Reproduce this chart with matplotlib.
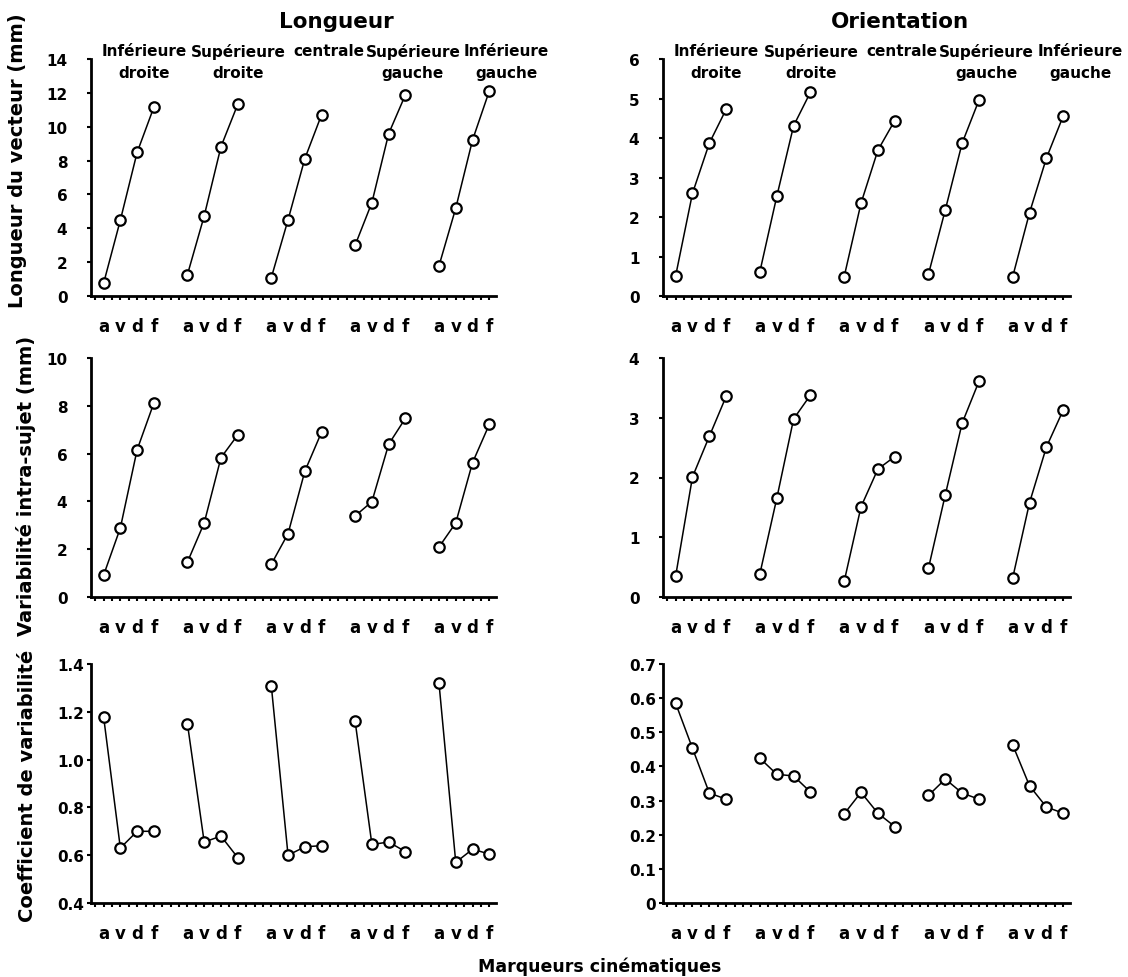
import numpy as np
import matplotlib
matplotlib.use('Agg')
import matplotlib.pyplot as plt

plt.rcParams['font.family'] = 'DejaVu Sans'
plt.rcParams['font.weight'] = 'bold'

phases = ['a', 'v', 'd', 'f']
regions = ['Inférieure\ndroite', 'Supérieure\ndroite', 'centrale',
           'Supérieure\ngauche', 'Inférieure\ngauche']

# rows: vector length, intra-subject variability, coefficient of variation
long_vecteur = [[0.75, 4.48, 8.48, 11.16], [1.26, 4.73, 8.82, 11.32],
                [1.08, 4.50, 8.11, 10.71], [3.00, 5.52, 9.59, 11.89],
                [1.78, 5.19, 9.21, 12.11]]
orient_vecteur = [[0.51, 2.60, 3.87, 4.73], [0.62, 2.52, 4.31, 5.16],
                  [0.49, 2.35, 3.69, 4.44], [0.55, 2.18, 3.87, 4.96],
                  [0.49, 2.11, 3.49, 4.56]]
long_var = [[0.91, 2.89, 6.16, 8.12], [1.46, 3.10, 5.83, 6.78],
            [1.37, 2.65, 5.26, 6.90], [3.39, 3.99, 6.39, 7.48],
            [2.09, 3.10, 5.62, 7.22]]
orient_var = [[0.35, 2.01, 2.69, 3.36], [0.39, 1.65, 2.98, 3.38],
              [0.26, 1.51, 2.14, 2.35], [0.48, 1.71, 2.91, 3.61],
              [0.32, 1.58, 2.51, 3.13]]
long_cv = [[1.18, 0.63, 0.70, 0.70], [1.15, 0.655, 0.68, 0.59],
           [1.31, 0.60, 0.635, 0.64], [1.16, 0.645, 0.655, 0.615],
           [1.32, 0.57, 0.625, 0.605]]
orient_cv = [[0.585, 0.453, 0.322, 0.304], [0.424, 0.377, 0.372, 0.325],
             [0.261, 0.324, 0.263, 0.224], [0.315, 0.363, 0.322, 0.304],
             [0.463, 0.343, 0.281, 0.263]]

yticks_list = [np.arange(0, 15, 2), np.arange(0, 7, 1),
               np.arange(0, 11, 2), np.arange(0, 5, 1),
               np.arange(0.4, 1.5, 0.2), np.arange(0, 0.75, 0.1)]
ytick_fmt = ['{:.0f}', '{:.0f}', '{:.0f}', '{:.0f}', '{:.1f}', '{:g}']
ylabels = ['Longueur du vecteur (mm)', 'Variabilité intra-sujet (mm)',
           'Coefficient de variabilité']

W, H = 1128, 978
fig = plt.figure(figsize=(W / 100, H / 100), dpi=100)

# axes boxes in pixels
col_x = [(91, 496), (663, 1070)]
row_y = [(60, 297), (359, 598), (665, 904)]

data = [long_vecteur, orient_vecteur, long_var, orient_var, long_cv, orient_cv]
xpos = np.array([g * 5 + np.arange(4) for g in range(5)])

k = 0
for r in range(3):
    for c in range(2):
        x0, x1 = col_x[c]
        t, b = row_y[r]
        ax = fig.add_axes([x0 / W, 1 - b / H, (x1 - x0) / W, (b - t) / H])
        vals = np.array(data[k])
        for g in range(5):
            ax.plot(xpos[g], vals[g], '-o', color='black', lw=1.1,
                    markersize=7.5, markerfacecolor='white',
                    markeredgewidth=1.6, clip_on=False, zorder=3)
        yt = yticks_list[k]
        ax.set_ylim(yt[0], yt[-1])
        ax.set_xlim(-0.75, 23.4)
        ax.set_yticks(yt)
        ax.set_yticklabels([ytick_fmt[k].format(v) for v in yt])
        ax.set_xticks(xpos.ravel())
        ax.set_xticklabels(phases * 5)
        ax.set_xticks(np.arange(-0.5, 23.5, 0.5), minor=True)
        for s in ['top', 'right']:
            ax.spines[s].set_visible(False)
        for s in ['left', 'bottom']:
            ax.spines[s].set_linewidth(2)
        ypad = 2 if r == 2 else 14
        ax.tick_params(axis='y', length=3, width=1.5, pad=ypad, labelsize=11)
        ax.tick_params(axis='x', which='both', length=3, width=1.5,
                       pad=12, labelsize=12)
        ax.tick_params(axis='x', which='minor', labelbottom=False)
        for lab in ax.get_xticklabels() + ax.get_yticklabels():
            lab.set_fontweight('bold')
        if r == 0:
            label_x = [2.4, 8.05, 13.45, 18.45, 24.0]
            for g, name in enumerate(regions):
                lines = name.split('\n')
                offs = [6, -10]
                for li, line in enumerate(lines):
                    ax.annotate(line, xy=(label_x[g], 1),
                                xycoords=('data', 'axes fraction'),
                                xytext=(0, offs[li]), textcoords='offset points',
                                ha='center', va='center', fontsize=11,
                                fontweight='bold', annotation_clip=False)
        k += 1

fig.text(336 / W, 1 - 22 / H, 'Longueur', ha='center', va='center',
         fontsize=15.5, fontweight='bold')
fig.text(900 / W, 1 - 22 / H, 'Orientation', ha='center', va='center',
         fontsize=15.5, fontweight='bold')

ylab_pos = [(18, 161), (26, 486), (28, 786)]
for (px, py), lab in zip(ylab_pos, ylabels):
    fig.text(px / W, 1 - py / H, lab, rotation=90, ha='center', va='center',
             fontsize=14, fontweight='bold')

fig.text(600 / W, 1 - 967 / H, 'Marqueurs cinématiques', ha='center',
         va='center', fontsize=12.5, fontweight='bold')

fig.savefig('out.png', dpi=100)
